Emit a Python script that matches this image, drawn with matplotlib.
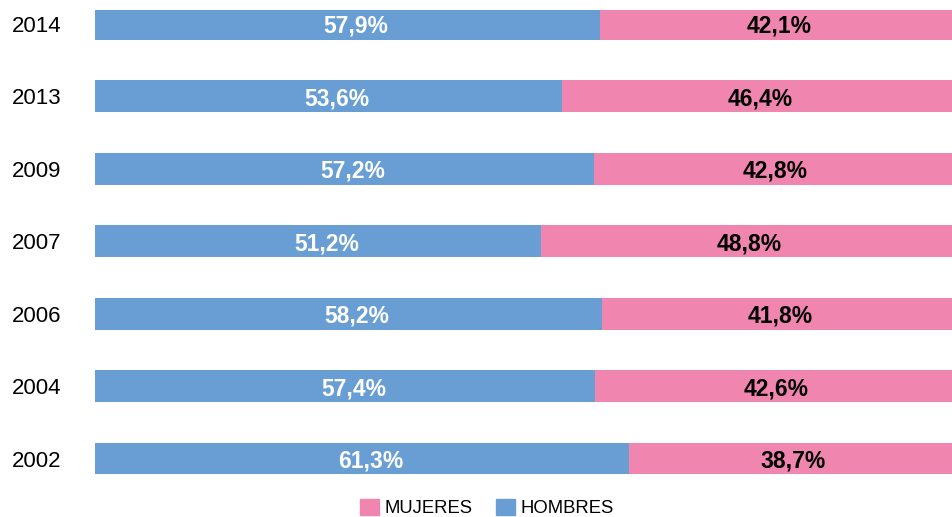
import numpy as np
import matplotlib.pyplot as plt
from matplotlib.patches import Patch

plt.rcParams['font.family'] = ['Liberation Sans', 'DejaVu Sans']

# data (bottom to top)
years = ['2002', '2004', '2006', '2007', '2009', '2013', '2014']
hombres = [61.3, 57.4, 58.2, 51.2, 57.2, 53.6, 57.9]
mujeres = [38.7, 42.6, 41.8, 48.8, 42.8, 46.4, 42.1]

c_hombres = '#689ed4'
c_mujeres = '#f086b0'

fig = plt.figure(figsize=(9.52, 5.17), dpi=100)
ax = fig.add_axes([95 / 952, 0.0431, 1 - 95 / 952, 0.9816 - 0.0431])

# the original chart is cut off a little on the right
xmax = 98.3

y = np.arange(len(years))
h = 0.44
ax.barh(y, hombres, height=h, color=c_hombres)
ax.barh(y, mujeres, left=hombres, height=h, color=c_mujeres)

for i in range(len(years)):
    ax.annotate(f'{hombres[i]:.1f}%'.replace('.', ','), (hombres[i] / 2, y[i]),
                xytext=(6, 0), textcoords='offset points',
                ha='center', va='center_baseline', color='white', fontsize=16.5, fontweight='bold')
    ax.annotate(f'{mujeres[i]:.1f}%'.replace('.', ','), ((hombres[i] + xmax) / 2, y[i]),
                xytext=(2, 0), textcoords='offset points',
                ha='center', va='center_baseline', color='black', fontsize=16.5, fontweight='bold')

ax.set_xlim(0, xmax)
ax.set_ylim(-0.5, 6.2)
ax.set_yticks(y)
ax.set_yticklabels(years, fontsize=16)
ax.set_xticks([])
ax.tick_params(axis='y', length=0, pad=24)
for s in ax.spines.values():
    s.set_visible(False)

handles = [Patch(color=c_mujeres, label='MUJERES'), Patch(color=c_hombres, label='HOMBRES')]
fig.legend(handles=handles, ncol=2, loc='center', bbox_to_anchor=(0.5115, 1 - 508 / 517),
           frameon=False, fontsize=13.3, handlelength=1.0, handleheight=1.0,
           handletextpad=0.3, columnspacing=1.3)

fig.savefig('out.png', dpi=100)
